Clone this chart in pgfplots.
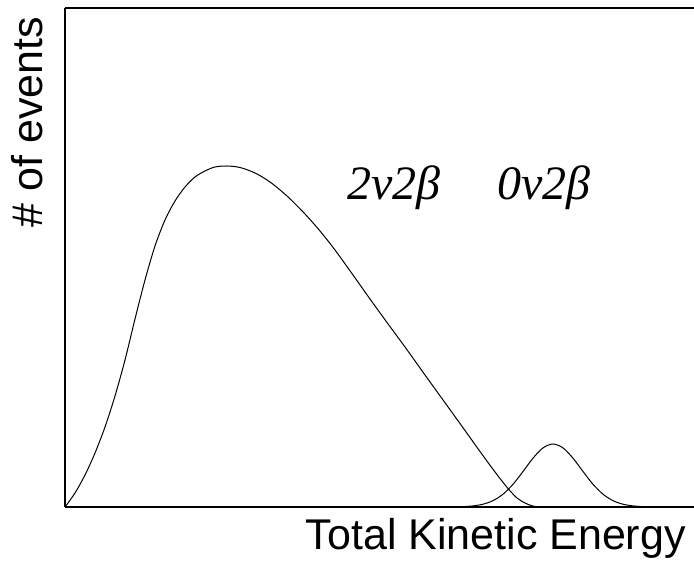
\documentclass[border=0pt]{standalone}
\usepackage{fontspec}
\setmainfont{Liberation Sans}
\newfontfamily\tnr{Liberation Serif}
\usepackage{pgfplots}
\pgfplotsset{compat=1.18}

\begin{document}
\begin{tikzpicture}
\begin{axis}[scale only axis,width=629pt,height=499pt,
  xmin=0,xmax=629,ymin=0,ymax=499,
  axis x line=bottom,axis y line=left,
  axis line style={line width=1.8pt,-},
  xtick=\empty,ytick=\empty,clip=false]
% two-neutrino spectrum
\addplot[black,line width=1pt,smooth] coordinates {
(0,0)(10,14)(20,32)(30,54)(40,80)(50,111)(60,147)(70,188)(80,227)(90,261)(100,287)
(110,306)(120,320)(130,330)(140,336)(150,340)(162,341)(175,339.5)(190,334)(205,325)
(222,311)(240,293)(255,276)(270,257)(288,232)(305,208)(322,184.5)(340,160)(360,132)
(382,101.5)(400,76.5)(415,55.5)(430,35)(443,18.5)(452,9)(460,4)(467,1.2)(474,0)};
% neutrinoless peak
\addplot[black,line width=1pt,smooth] coordinates {
(378,0)(388,0.1)(398,0.36)(408,1.1)(418,2.8)(428,6.3)(438,12.8)(448,22.7)(458,35.5)(468,48.8)(478,59.1)(488,63)
(498,59.1)(508,48.8)(518,35.5)(528,22.7)(538,12.8)(548,6.3)(558,2.8)(568,1.1)(578,0.36)(588,0.1)(598,0)};
\draw[line width=1.8pt] (axis cs:0,499) -- (axis cs:629,499);
\node[anchor=base west,inner sep=0pt,font=\tnr\itshape\fontsize{48}{54}\selectfont] at (axis cs:282,307) {2v2β};
\node[anchor=base west,inner sep=0pt,font=\tnr\itshape\fontsize{48}{54}\selectfont] at (axis cs:432,307) {0v2β};
\node[anchor=base east,inner sep=0pt,font=\fontsize{43}{50}\selectfont] at (axis cs:621,-43) {Total Kinetic Energy};
\node[anchor=base,rotate=90,inner sep=0pt,font=\fontsize{43}{50}\selectfont] at (axis cs:-22,385) {\# of events};
\coordinate (bl) at (axis cs:-65,-54);
\coordinate (tr) at (axis cs:629,507);
\end{axis}
\pgfresetboundingbox
\useasboundingbox (bl) rectangle (tr);
\end{tikzpicture}
\end{document}
